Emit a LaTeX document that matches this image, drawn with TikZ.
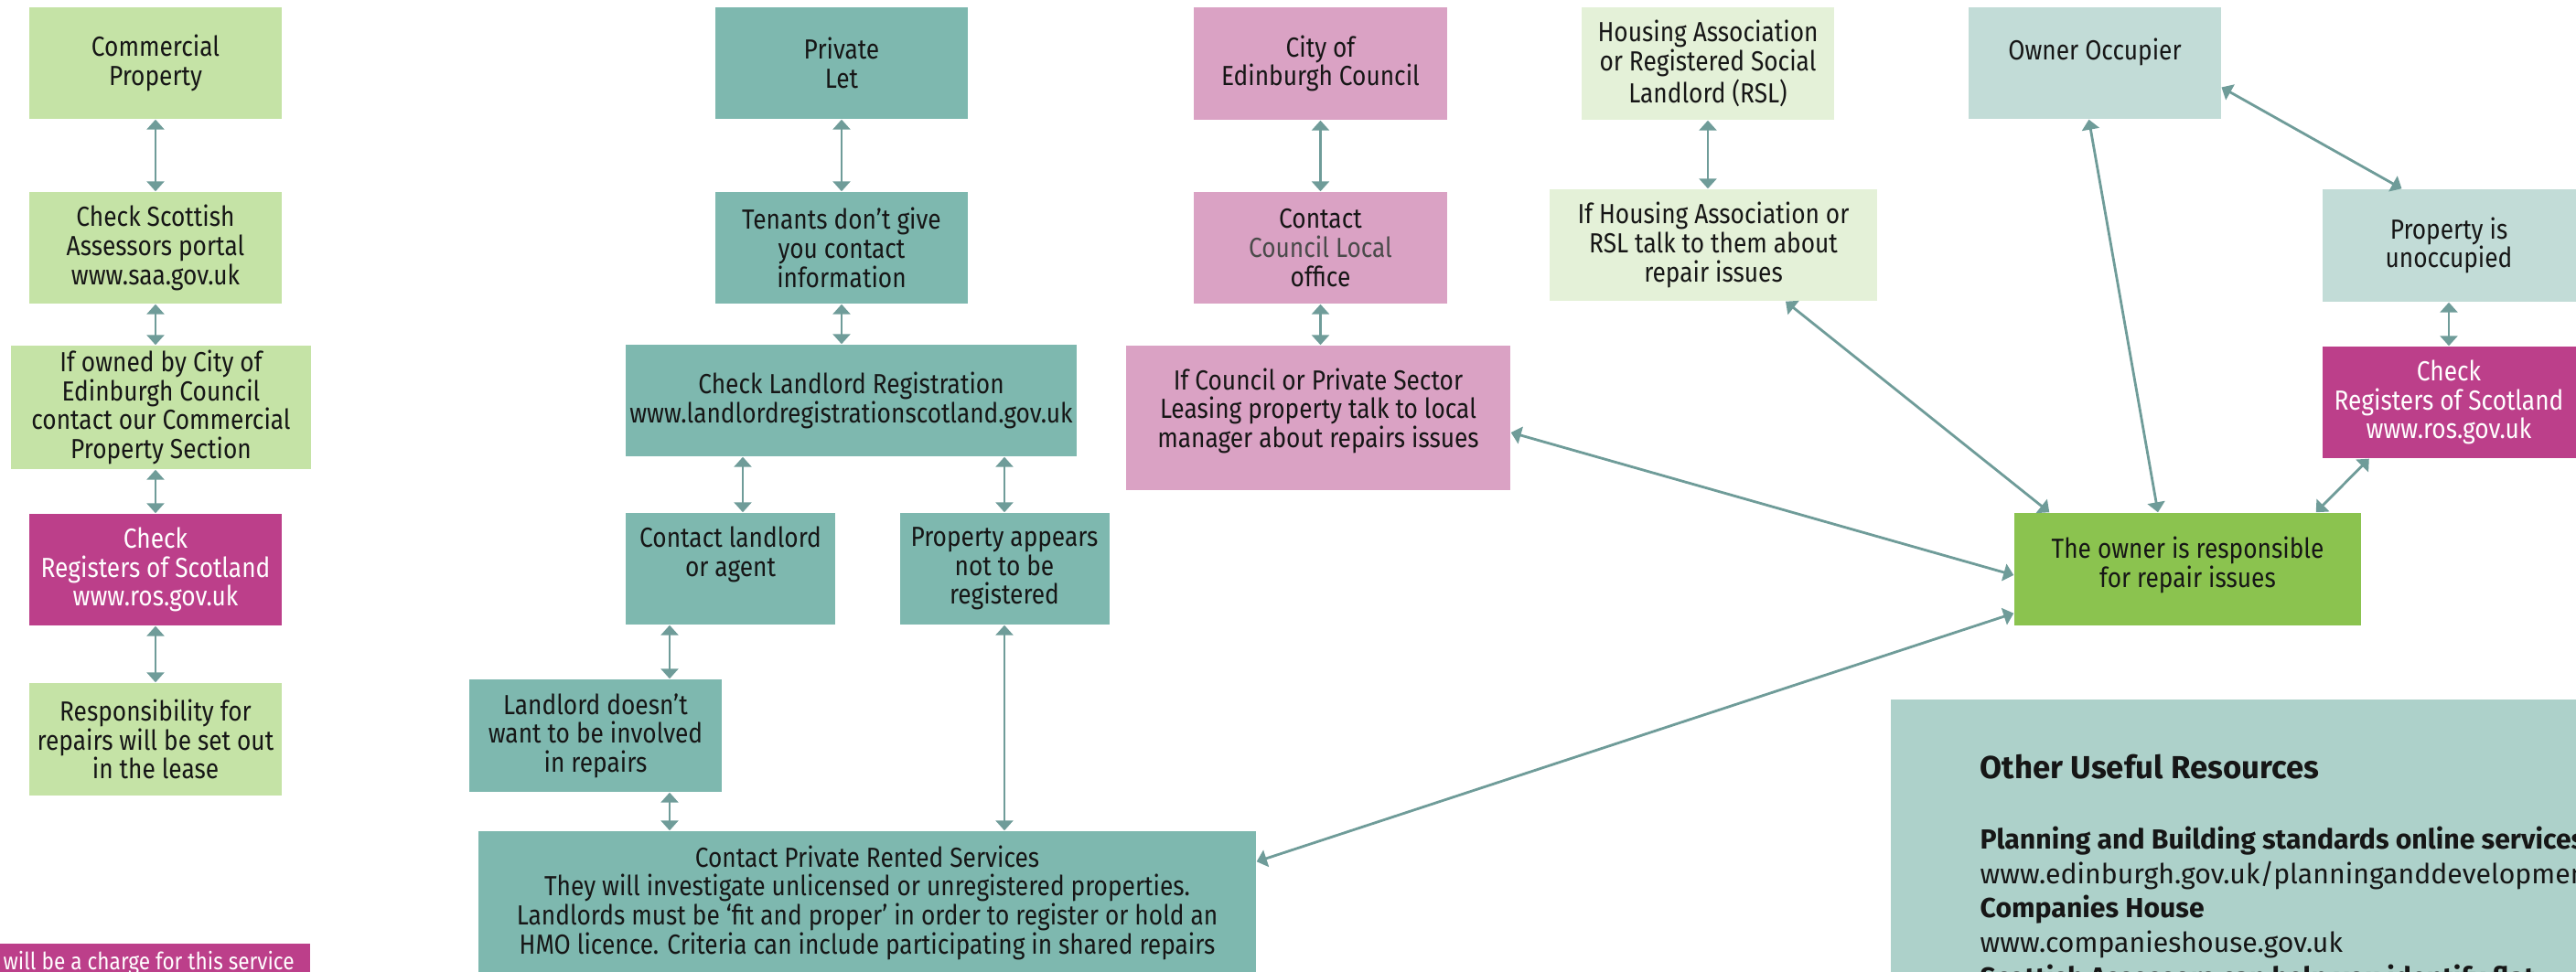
\documentclass[tikz,border=0pt]{standalone}
\usepackage{fontspec}
\setmainfont{Fira Sans}
\newfontfamily\boxfamily{Fira Sans}[FakeStretch=0.87, Ligatures=TeX]
\usepackage{tikz}
\usetikzlibrary{arrows.meta, positioning, calc}
\usepackage{xcolor}
\definecolor{limebox}{HTML}{C5E3A6}
\definecolor{tealbox}{HTML}{7EB8AF}
\definecolor{pinkbox}{HTML}{DAA2C4}
\definecolor{plumbox}{HTML}{BC3F8A}
\definecolor{palebox}{HTML}{E4F1D8}
\definecolor{greybox}{HTML}{C2DCD7}
\definecolor{greenbox}{HTML}{8BC34F}
\definecolor{resbox}{HTML}{ADD1CA}
\definecolor{linkcol}{HTML}{6F9C99}
\definecolor{inkcol}{HTML}{161616}
\definecolor{officecol}{HTML}{4A4A4A}
\newcommand{\boxfont}{\boxfamily\fontsize{8.6}{9}\selectfont}
\newcommand{\chargefont}{\boxfamily\fontsize{7.4}{9}\selectfont}
\newcommand{\resfont}{\fontsize{8.6}{10.8}\selectfont}

\begin{document}
\begin{tikzpicture}[
  box/.style={rectangle, inner sep=0pt, align=center, text=inkcol, font=\boxfont},
  lime/.style={box, fill=limebox},
  tealb/.style={box, fill=tealbox},
  pinkb/.style={box, fill=pinkbox},
  plum/.style={box, fill=plumbox, text=white},
  pale/.style={box, fill=palebox},
  greyb/.style={box, fill=greybox},
  greenb/.style={box, fill=greenbox},
  link/.style={draw=linkcol, line width=0.8pt,
    {Triangle[width=1.9mm,length=1.1mm]}-{Triangle[width=1.9mm,length=1.1mm]}}]
  \useasboundingbox (0,0) rectangle (28.16,-10.63);
  \clip (0,0) rectangle (28.16,-10.63);
%---------------------------------------------------------------------------
  \node[lime, minimum width=2.76cm, minimum height=1.22cm] (comm) at (1.70,-0.69) {Commercial\\Property};
  \node[lime, minimum width=2.76cm, minimum height=1.22cm] (scot) at (1.70,-2.71) {Check Scottish\\Assessors portal\\www.saa.gov.uk};
  \node[lime, minimum width=3.28cm, minimum height=1.35cm] (owned) at (1.76,-4.455) {If owned by City of\\Edinburgh Council\\contact our Commercial\\Property Section};
  \node[plum, minimum width=2.76cm, minimum height=1.22cm] (ros1) at (1.70,-6.23) {Check\\Registers of Scotland\\www.ros.gov.uk};
  \node[lime, minimum width=2.76cm, minimum height=1.23cm] (lease) at (1.70,-8.085) {Responsibility for\\repairs will be set out\\in the lease};
  \node[plum, anchor=north east, minimum width=3.6cm, minimum height=0.5cm] (charge) at (3.40,-10.31) {};
  \node[anchor=base west, inner sep=0pt, text=white, font=\chargefont] (chargetext) at (0.03,-10.61) {will be a charge for this service};
  \draw[link] (comm) -- (scot);
  \draw[link] (scot.south) -- (scot.south |- owned.north);
  \draw[link] (ros1.north) -- (ros1.north |- owned.south);
  \draw[link] (ros1) -- (lease);
%---------------------------------------------------------------------------
  \node[tealb, minimum width=2.76cm, minimum height=1.22cm] (priv) at (9.20,-0.69) {Private\\Let};
  \node[tealb, minimum width=2.76cm, minimum height=1.22cm] (tenants) at (9.20,-2.71) {Tenants don’t give\\you contact\\information};
  \node[tealb, minimum width=4.93cm, minimum height=1.22cm] (reg) at (9.305,-4.38) {Check Landlord Registration\\www.landlordregistrationscotland.gov.uk};
  \node[tealb, minimum width=2.29cm, minimum height=1.22cm, text depth=0.38cm] (cland) at (7.985,-6.22) {Contact landlord\\or agent};
  \node[tealb, minimum width=2.29cm, minimum height=1.22cm] (prop) at (10.98,-6.22) {Property appears\\not to be\\registered};
  \node[tealb, minimum width=2.76cm, minimum height=1.23cm] (ldn) at (6.51,-8.045) {Landlord doesn’t\\want to be involved\\in repairs};
  \node[tealb, minimum width=8.50cm, minimum height=1.56cm] (prs) at (9.48,-9.87) {Contact Private Rented Services\\They will investigate unlicensed or unregistered properties.\\Landlords must be ‘fit and proper’ in order to register or hold an\\HMO licence. Criteria can include participating in shared repairs};
  \draw[link] (priv) -- (tenants);
  \draw[link] (tenants.south) -- (tenants.south |- reg.north);
  \draw[link] ([xshift=1.35mm]cland.north) -- ([xshift=1.35mm]cland.north |- reg.south);
  \draw[link] (prop.north) -- (prop.north |- reg.south);
  \draw[link] ([xshift=-6.65mm]cland.south) -- ([xshift=-6.65mm]cland.south |- ldn.north);
  \draw[link] ([xshift=8.1mm]ldn.south) -- ([xshift=8.1mm]ldn.south |- prs.north);
  \draw[link] (prop.south) -- (prop.south |- prs.north);
%---------------------------------------------------------------------------
  \node[pinkb, minimum width=2.77cm, minimum height=1.23cm] (city) at (14.435,-0.695) {City of\\Edinburgh Council};
  \node[pinkb, minimum width=2.77cm, minimum height=1.22cm] (ccl) at (14.435,-2.71) {Contact\\{\color{officecol}Council Local}\\office};
  \node[pinkb, minimum width=4.20cm, minimum height=1.58cm, text depth=0.22cm] (ifcouncil) at (14.41,-4.57) {If Council or Private Sector\\Leasing property talk to local\\manager about repairs issues};
  \node[pale, minimum width=2.76cm, minimum height=1.23cm] (ha) at (18.67,-0.695) {Housing Association\\or Registered Social\\Landlord (RSL)};
  \node[pale, minimum width=3.585cm, minimum height=1.22cm] (ifha) at (18.73,-2.68) {If Housing Association or\\RSL talk to them about\\repair issues};
  \draw[link] (city) -- (ccl);
  \draw[link] (ccl.south) -- (ccl.south |- ifcouncil.north);
  \draw[link] (ha.south) -- (ha.south |- ifha.north);
%---------------------------------------------------------------------------
  \node[greyb, minimum width=2.755cm, minimum height=1.22cm, text depth=0.3cm] (owner) at (22.90,-0.69) {Owner Occupier};
  \node[greyb, minimum width=2.77cm, minimum height=1.23cm] (unocc) at (26.77,-2.685) {Property is\\unoccupied};
  \node[plum, minimum width=2.77cm, minimum height=1.22cm] (ros2) at (26.77,-4.40) {Check\\Registers of Scotland\\www.ros.gov.uk};
  \node[greenb, minimum width=3.79cm, minimum height=1.23cm, text depth=0.15cm] (green) at (23.915,-6.225) {The owner is responsible\\for repair issues};
  \draw[link] (unocc) -- (ros2);
  \draw[link] ([yshift=-2.65mm]owner.east) -- ([xshift=-5.15mm]unocc.north);
  \draw[link] ([xshift=-0.65mm]owner.south) -- ([xshift=-3.25mm]green.north);
  \draw[link] ([xshift=5.2mm]ros2.south west) -- ([xshift=-5mm]green.north east);
  \draw[link] ([xshift=7.9mm]ifha.south) -- ([xshift=3.9mm]green.north west);
  \draw[link] ([yshift=-1.6mm]ifcouncil.east) -- ([yshift=-0.65mm]green.west);
  \draw[link] ([yshift=-3.4mm]prs.north east) -- ([yshift=1.4mm]green.south west);
%---------------------------------------------------------------------------
  \node[fill=resbox, anchor=north west, minimum width=8.5cm, minimum height=3.5cm] (res) at (20.66,-7.64) {};
  \node[anchor=north west, align=left, inner sep=0pt, text=inkcol, font=\resfont] (restext) at ([xshift=9.8mm,yshift=-6.0mm]res.north west)
    {{\fontsize{9.9}{11}\selectfont\bfseries Other Useful Resources}\\[0.39cm]
     \textbf{Planning and Building standards online services}\\
     www.edinburgh.gov.uk/planninganddevelopment\\
     \textbf{Companies House}\\
     www.companieshouse.gov.uk\\
     \textbf{Scottish Assessors can help you identify flat}};
\end{tikzpicture}
\end{document}
